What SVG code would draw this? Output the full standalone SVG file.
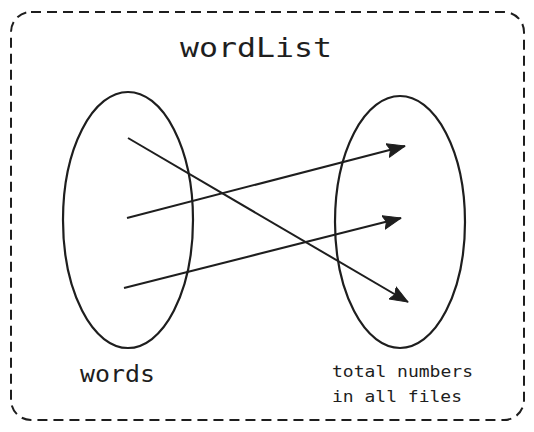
<svg xmlns="http://www.w3.org/2000/svg" width="534" height="432" viewBox="0 0 534 432">
<style>
.frame{fill:none;stroke:#1e1e1e;stroke-width:2;stroke-dasharray:10 6}
.set{fill:none;stroke:#1e1e1e;stroke-width:2.2}
.edge{fill:none;stroke:#1e1e1e;stroke-width:2}
.lbl{font-family:"DejaVu Sans Mono","Liberation Mono",monospace;fill:#1e1e1e}
</style>
<defs>
<marker id="ah" markerUnits="userSpaceOnUse" markerWidth="20" markerHeight="16" viewBox="0 0 20 16" refX="18" refY="8" orient="auto">
<path d="M0,1 L18,8 L0,15 L3,8 Z" fill="#1e1e1e" stroke="#1e1e1e" stroke-width="1" stroke-linejoin="round"/>
</marker>
</defs>
<g id="wordList">
<rect class="frame" x="11" y="12" width="513" height="408" rx="20" ry="20"/>
<text class="lbl" x="256" y="57" font-size="27" text-anchor="middle" textLength="152" lengthAdjust="spacingAndGlyphs">wordList</text>
</g>
<g id="words">
<ellipse class="set" cx="128" cy="220" rx="65" ry="128"/>
<text class="lbl" x="80" y="382" font-size="23" textLength="75" lengthAdjust="spacingAndGlyphs">words</text>
</g>
<g id="totals">
<ellipse class="set" cx="400" cy="222" rx="65" ry="126"/>
<text class="lbl" x="332" y="377" font-size="16.5" textLength="141" lengthAdjust="spacingAndGlyphs">total numbers</text>
<text class="lbl" x="332" y="402" font-size="16.5" textLength="130" lengthAdjust="spacingAndGlyphs">in all files</text>
</g>
<g id="connectors">
<line class="edge" x1="128" y1="138" x2="408" y2="302" marker-end="url(#ah)"/>
<line class="edge" x1="127" y1="218" x2="405" y2="146" marker-end="url(#ah)"/>
<line class="edge" x1="124" y1="288" x2="401" y2="218" marker-end="url(#ah)"/>
</g>
</svg>
